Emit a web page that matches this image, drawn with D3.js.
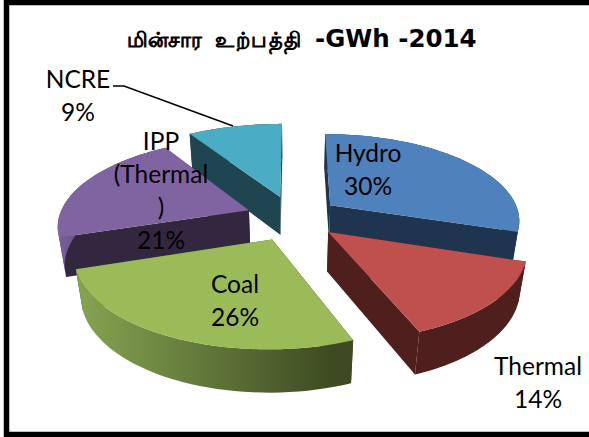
<!DOCTYPE html>
<html>
<head>
<meta charset="utf-8">
<script src="https://cdn.jsdelivr.net/npm/d3@7"></script>
<style>
html, body { margin: 0; padding: 0; background: #fff; }
svg { display: block; }
</style>
</head>
<body>
<script>
var categories = ["Hydro", "Thermal", "Coal", "IPP (Thermal )", "NCRE"];
var shares = [30, 14, 26, 21, 9];
var labelLines = [["Hydro", "30%"], ["Thermal", "14%"], ["Coal", "26%"], ["IPP", "(Thermal", ")", "21%"], ["NCRE", "9%"]];
var titleWords = ["மின்சார", "உற்பத்தி", "-GWh -2014"];

var width = 589, height = 437;

// look of each slice, same order as categories
var topColors = ["#4f81bd", "#bf504d", "#9bbb59", "#8064a2", "#4bacc6"];
var wallColors = ["#1f344f", "#4f1f1e", "#3e4b22", "#33263f", "#1f4550"];
var wallLight = ["#1f344f", "#4f1f1e", "#86a552", "#7a5f9c", "#1f4550"];
// how far each slice is pulled out of the pie, in pie units
var explode = [[0.2, -0.14], [0.18, 0.17], [-0.105, 0.25], [-0.235, -0.08], [-0.07, -0.24]];
// radius of each slice, the original is not quite even
var sliceRadius = [1, 1, 0.985, 1, 1.07];
// label centres in pixels (x, first line y)
var labelPos = [[368, 156], [538, 369], [235, 287], [161, 144], [78, 82]];
var drawOrder = [4, 3, 0, 1, 2];

var xScale = d3.scaleLinear().domain([-1, 1]).range([293 - 190, 293 + 190]);
var yScale = d3.scaleLinear().domain([-1, 1]).range([217 - 86, 217 + 86]);
var persp = 0.16, depth = 40, zShrink = 0.03;

// pie plane to screen, z = 0 top face, z = 1 bottom face
function project(u, v, z) {
    var w = 1 - persp * v + zShrink * z;
    return [
        xScale(0) + (xScale(u) - xScale(0)) / w,
        yScale(0) + (yScale(v) - yScale(0) + depth * z) / w
    ];
}

var pie = d3.pie().sort(null).value(function(d) { return d; });
var arcs = pie(shares);

var line = d3.line();

function rimPoints(a, off, r, z) {
    var n = 40;
    return d3.range(n + 1).map(function(i) {
        var t = a.startAngle + (a.endAngle - a.startAngle) * i / n;
        return project(off[0] + r * Math.sin(t), off[1] - r * Math.cos(t), z);
    });
}

var canvas = d3.select("body").append("svg")
    .attr("width", width)
    .attr("height", height);

canvas.append("rect").attr("width", width).attr("height", height).attr("fill", "#fff");

var defs = canvas.append("defs");

drawOrder.forEach(function(i) {
    var a = arcs[i], off = explode[i];
    var topRim = rimPoints(a, off, sliceRadius[i], 0);
    var botRim = rimPoints(a, off, sliceRadius[i], 1);
    var apexTop = project(off[0], off[1], 0);
    var apexBot = project(off[0], off[1], 1);
    var g = canvas.append("g").attr("class", "slice");

    // gradient runs along the rim, light on the left
    var xs = d3.extent(topRim, function(p) { return p[0]; });
    var grad = defs.append("linearGradient")
        .attr("id", "wall" + i)
        .attr("gradientUnits", "userSpaceOnUse")
        .attr("x1", xs[0]).attr("x2", xs[1]).attr("y1", 0).attr("y2", 0);
    grad.append("stop").attr("offset", "0%").attr("stop-color", wallLight[i]);
    grad.append("stop").attr("offset", "92%").attr("stop-color", wallColors[i]);

    // both radial walls
    [topRim[0], topRim[topRim.length - 1]].forEach(function(p, k) {
        var q = k == 0 ? botRim[0] : botRim[botRim.length - 1];
        g.append("path")
            .attr("d", line([apexTop, p, q, apexBot]) + "Z")
            .attr("fill", wallColors[i]);
    });

    // rim wall
    g.append("path")
        .attr("d", line(topRim.concat(botRim.slice().reverse())) + "Z")
        .attr("fill", "url(#wall" + i + ")");

    // top face
    g.append("path")
        .attr("d", line([apexTop].concat(topRim)) + "Z")
        .attr("fill", topColors[i]);
});

// leader line for NCRE
canvas.append("path")
    .attr("d", line([[113, 86], [124, 86], [233, 126]]))
    .attr("fill", "none")
    .attr("stroke", "#000")
    .attr("stroke-width", 1.5);

// labels
labelLines.forEach(function(lines, i) {
    var t = canvas.append("text")
        .attr("text-anchor", "middle")
        .attr("font-family", "Lato, 'Open Sans', sans-serif")
        .attr("font-size", 24.5)
        .attr("fill", "#000");
    lines.forEach(function(s, k) {
        t.append("tspan")
            .attr("x", labelPos[i][0])
            .attr("y", labelPos[i][1] + k * 33)
            .attr("dominant-baseline", "middle")
            .text(s);
    });
});

// title, three pieces placed one after the other
var titleX = [127, 215, 315];
titleWords.forEach(function(s, i) {
    var t = canvas.append("text")
        .attr("x", titleX[i])
        .attr("y", 47)
        .attr("fill", "#000")
        .text(s);
    if (i < 2) {
        t.attr("font-family", "'Noto Sans', sans-serif")
            .attr("font-size", 21)
            .attr("stroke", "#000")
            .attr("stroke-width", 1)
            .attr("letter-spacing", i == 1 ? 1.5 : 0);
    } else {
        t.attr("font-family", "'DejaVu Sans', Verdana, sans-serif")
            .attr("font-weight", "bold")
            .attr("font-size", 24.5);
    }
});

// black frame round the chart, open on the right
canvas.append("path")
    .attr("d", line([[width, 2.5], [6.5, 2.5], [6.5, 434.5], [width, 434.5]]))
    .attr("fill", "none")
    .attr("stroke", "#000")
    .attr("stroke-width", 5.5);
</script>
</body>
</html>
